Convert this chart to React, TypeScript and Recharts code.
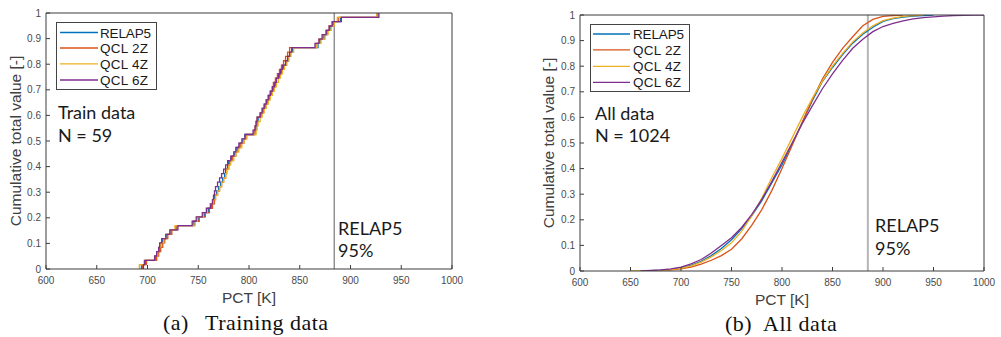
import React from "react";
import { LineChart, Line, XAxis, YAxis, ReferenceLine, Legend } from "recharts";

const seriesNames = ["RELAP5", "QCL 2Z", "QCL 4Z", "QCL 6Z"];
const seriesColors = ["#0072BD", "#D95319", "#EDB120", "#7E2F8E"];
const pctTicks = [600, 650, 700, 750, 800, 850, 900, 950, 1000];
const cumTicks = [0, 0.1, 0.2, 0.3, 0.4, 0.5, 0.6, 0.7, 0.8, 0.9, 1];

// (a) training data: sorted PCT samples, N = 59
const trainRelap5 = [
  694, 698, 708, 710, 712, 713, 715, 719, 723, 728, 746, 750, 756, 760, 763, 765, 766, 768, 770, 772,
  774, 776, 777, 779, 780, 783, 786, 788, 791, 794, 796, 806, 807, 808, 809, 812, 814, 816, 818, 820,
  822, 824, 826, 827, 830, 832, 834, 837, 839, 841, 843, 868, 870, 874, 877, 880, 883, 890, 927,
];
const trainQcl2z = [
  695, 699, 709, 711, 713, 715, 717, 720, 724, 729, 745, 751, 757, 761, 764, 766, 767, 769, 771, 773,
  775, 777, 778, 780, 781, 784, 787, 789, 792, 795, 797, 805, 806, 807, 808, 811, 813, 815, 817, 819,
  821, 823, 824, 826, 828, 830, 832, 834, 836, 838, 840, 866, 869, 873, 876, 879, 882, 888, 926,
];
const trainQcl4z = [
  692, 697, 707, 710, 711, 713, 716, 718, 722, 727, 747, 749, 755, 759, 762, 765, 767, 769, 771, 773,
  775, 777, 778, 780, 782, 785, 787, 790, 793, 795, 798, 807, 808, 809, 811, 813, 815, 817, 819, 821,
  823, 825, 827, 829, 831, 833, 835, 837, 839, 841, 844, 867, 871, 875, 878, 881, 884, 887, 926,
];
const trainQcl6z = [
  696, 697, 707, 709, 711, 712, 714, 718, 722, 730, 744, 748, 754, 758, 762, 764, 765, 766, 767, 769,
  771, 773, 775, 777, 779, 782, 785, 787, 790, 793, 796, 804, 806, 807, 808, 811, 813, 815, 817, 819,
  821, 823, 825, 827, 829, 831, 833, 836, 838, 840, 842, 865, 869, 872, 876, 879, 882, 891, 928,
];

// (b) all data: cumulative value read on a PCT grid, N = 1024
const allPctGrid = [
  650, 660, 670, 680, 690, 700, 710, 720, 730, 740, 750, 760, 770, 780, 790, 800, 810, 820,
  830, 840, 850, 860, 870, 880, 890, 900, 910, 920, 930, 940, 950, 960, 970, 980, 990, 1000,
];
const allRelap5 = [
  null, 0, 0.001, 0.003, 0.006, 0.012, 0.022, 0.038, 0.06, 0.088, 0.122, 0.165, 0.215, 0.275, 0.345, 0.415, 0.495, 0.58,
  0.665, 0.74, 0.795, 0.845, 0.89, 0.925, 0.952, 0.975, 0.986, 0.992, 0.996, 0.998, 1, null, null, null, null, null,
];
const allQcl2z = [
  null, 0, 0.001, 0.002, 0.004, 0.008, 0.015, 0.027, 0.042, 0.06, 0.085, 0.125, 0.178, 0.24, 0.315, 0.4, 0.49, 0.58,
  0.67, 0.75, 0.815, 0.87, 0.915, 0.958, 0.983, 0.995, 0.998, 1, null, null, null, null, null, null, null, null,
];
const allQcl4z = [
  0, 0, 0.001, 0.002, 0.005, 0.01, 0.02, 0.035, 0.055, 0.08, 0.11, 0.155, 0.215, 0.285, 0.365, 0.44, 0.52, 0.6,
  0.675, 0.742, 0.8, 0.85, 0.895, 0.93, 0.958, 0.978, 0.988, 0.995, 0.998, 1, null, null, null, null, null, null,
];
const allQcl6z = [
  null, 0, 0.002, 0.004, 0.008, 0.015, 0.028, 0.045, 0.07, 0.1, 0.13, 0.17, 0.22, 0.28, 0.35, 0.425, 0.5, 0.575,
  0.645, 0.712, 0.77, 0.823, 0.87, 0.905, 0.935, 0.955, 0.967, 0.977, 0.985, 0.99, 0.993, 0.996, 0.998, 0.999, 1, 1,
];

const relap95Train = 884;
const relap95All = 885;

const axisColor = "#3c3c3c";
const tickText = "#4a4a4a";
const sans = "Liberation Sans, Arial, sans-serif";
const calibriLike = "Lato, Open Sans, sans-serif";

// widths of the legend labels as drawn in the reference
const legendTextWidths = [51, 48, 48, 48];

function ecdf(samples: number[]) {
  const n = samples.length;
  return [{ pct: samples[0], cum: 0 }, ...samples.map((v, i) => ({ pct: v, cum: (i + 1) / n }))];
}

function gridRows(values: (number | null)[]) {
  return allPctGrid
    .map((p, i) => ({ pct: p, cum: values[i] }))
    .filter((d) => d.cum !== null);
}

const trainSeries = [trainRelap5, trainQcl2z, trainQcl4z, trainQcl6z].map(ecdf);
const allSeries = [allRelap5, allQcl2z, allQcl4z, allQcl6z].map(gridRows);

const fmtCum = (v: number) => String(Math.round(v * 10) / 10);

const BottomTick = (props: any) => {
  const { x, y, payload } = props;
  return (
    <g>
      <line x1={x} y1={y} x2={x} y2={y - 4} stroke={axisColor} />
      <text x={x} y={y + 14.5} textAnchor="middle" fontSize={10} fill={tickText} fontFamily={sans}>
        {payload.value}
      </text>
    </g>
  );
};
const LeftTick = (props: any) => {
  const { x, y, payload } = props;
  return (
    <g>
      <line x1={x} y1={y} x2={x + 4} y2={y} stroke={axisColor} />
      <text x={x - 5} y={y + 3.5} textAnchor="end" fontSize={10} fill={tickText} fontFamily={sans}>
        {fmtCum(payload.value)}
      </text>
    </g>
  );
};
const TopTick = (props: any) => {
  const { x, y } = props;
  return <line x1={x} y1={y} x2={x} y2={y + 4} stroke={axisColor} />;
};
const RightTick = (props: any) => {
  const { x, y } = props;
  return <line x1={x} y1={y} x2={x - 4} y2={y} stroke={axisColor} />;
};

function LegendBox({ w, h, rows, lineX, textX }: { w: number; h: number; rows: number[]; lineX: number[]; textX: number }) {
  return (
    <svg width={w} height={h} style={{ display: "block" }}>
      <rect x={0.5} y={0.5} width={w - 1} height={h - 1} fill="#fff" stroke="#444" />
      {seriesNames.map((name, i) => (
        <g key={name}>
          <line x1={lineX[0]} x2={lineX[1]} y1={rows[i]} y2={rows[i]} stroke={seriesColors[i]} strokeWidth={1.3} />
          <text
            x={textX}
            y={rows[i] + 5}
            fontSize={13.5}
            fontFamily={sans}
            fill="#1a1a1a"
            textLength={legendTextWidths[i]}
            lengthAdjust="spacing"
          >
            {name}
          </text>
        </g>
      ))}
    </svg>
  );
}

interface PanelProps {
  left: number;
  width: number;
  plotTop: number;
  plotBottom: number;
  plotW: number;
  series: { pct: number; cum: number | null }[][];
  step: boolean;
  refX: number;
  refColor: string;
  refWidth: number;
  legendPos: { left: number; top: number; w: number; h: number; rows: number[]; lineX: number[]; textX: number };
}

function Panel(p: PanelProps) {
  const H = 337;
  const margin = {
    top: p.plotTop - 1,
    left: 10,
    right: p.width - 46 - p.plotW - 1,
    bottom: H - p.plotBottom - 20,
  };
  return (
    <div style={{ position: "absolute", left: p.left, top: 0 }}>
      <LineChart width={p.width} height={H} margin={margin}>
        <XAxis
          xAxisId="b"
          dataKey="pct"
          type="number"
          domain={[600, 1000]}
          ticks={pctTicks}
          allowDataOverflow
          height={20}
          tickSize={0}
          tickMargin={0}
          tickLine={false}
          tick={BottomTick}
          axisLine={{ stroke: axisColor }}
          interval={0}
        />
        <XAxis
          xAxisId="t"
          orientation="top"
          type="number"
          domain={[600, 1000]}
          ticks={pctTicks}
          height={1}
          tickSize={0}
          tickMargin={0}
          tickLine={false}
          tick={TopTick}
          axisLine={{ stroke: axisColor }}
          interval={0}
        />
        <YAxis
          yAxisId="l"
          type="number"
          domain={[0, 1]}
          ticks={cumTicks}
          allowDataOverflow
          width={36}
          tickSize={0}
          tickMargin={0}
          tickLine={false}
          tick={LeftTick}
          axisLine={{ stroke: axisColor }}
          interval={0}
        />
        <YAxis
          yAxisId="r"
          orientation="right"
          type="number"
          domain={[0, 1]}
          ticks={cumTicks}
          width={1}
          tickSize={0}
          tickMargin={0}
          tickLine={false}
          tick={RightTick}
          axisLine={{ stroke: axisColor }}
          interval={0}
        />
        <ReferenceLine xAxisId="b" yAxisId="l" x={p.refX} stroke={p.refColor} strokeWidth={p.refWidth} />
        {p.series.map((rows, i) => (
          <Line
            key={seriesNames[i]}
            xAxisId="b"
            yAxisId="l"
            name={seriesNames[i]}
            data={rows}
            dataKey="cum"
            type={p.step ? "stepAfter" : "linear"}
            stroke={seriesColors[i]}
            strokeWidth={1.3}
            dot={false}
            activeDot={false}
            isAnimationActive={false}
          />
        ))}
        <Legend
          layout="horizontal"
          align="center"
          verticalAlign="middle"
          wrapperStyle={{ left: p.legendPos.left, top: p.legendPos.top, width: p.legendPos.w }}
          content={() => (
            <LegendBox
              w={p.legendPos.w}
              h={p.legendPos.h}
              rows={p.legendPos.rows}
              lineX={p.legendPos.lineX}
              textX={p.legendPos.textX}
            />
          )}
        />
      </LineChart>
    </div>
  );
}

export default function App() {
  const label = { fontFamily: sans, fontSize: 15.5, fill: "#404040" };
  const note = { fontFamily: calibriLike, fontSize: 18, fill: "#1a1a1a" };
  const cap = { fontFamily: "Liberation Serif, Times New Roman, serif", fontSize: 22, fill: "#111", letterSpacing: 0.5 };
  return (
    <div style={{ position: "absolute", left: 0, top: 0, width: 1001, height: 337, background: "#fff", overflow: "hidden" }}>
      <Panel
        left={0}
        width={470}
        plotTop={13}
        plotBottom={269}
        plotW={406}
        series={trainSeries}
        step
        refX={relap95Train}
        refColor="#8c8c8c"
        refWidth={1.4}
        legendPos={{ left: 56, top: 22, w: 101, h: 68, rows: [10.5, 26, 41.8, 58], lineX: [4, 42], textX: 44 }}
      />
      <Panel
        left={534}
        width={467}
        plotTop={15}
        plotBottom={271}
        plotW={404}
        series={allSeries}
        step={false}
        refX={relap95All}
        refColor="#b5b5b5"
        refWidth={2}
        legendPos={{ left: 56, top: 24, w: 100, h: 68, rows: [10, 25.8, 42.3, 58.3], lineX: [3, 40], textX: 43 }}
      />
      <svg width={1001} height={337} style={{ position: "absolute", left: 0, top: 0, pointerEvents: "none" }}>
        <text x={20.5} y={141} textAnchor="middle" transform="rotate(-90 20.5 141)" {...label}>
          Cumulative total value [-]
        </text>
        <text x={249} y={303} textAnchor="middle" {...label}>
          PCT [K]
        </text>
        <text x={58} y={119} {...note}>Train data</text>
        <text x={58} y={142} {...note}>N = 59</text>
        <text x={338} y={235} {...note}>RELAP5</text>
        <text x={338} y={257} {...note}>95%</text>
        <text x={163} y={330} {...cap}>(a)</text>
        <text x={205} y={330} {...cap}>Training data</text>

        <text x={554} y={143} textAnchor="middle" transform="rotate(-90 554 143)" {...label}>
          Cumulative total value [-]
        </text>
        <text x={782} y={305} textAnchor="middle" {...label}>
          PCT [K]
        </text>
        <text x={595} y={120} {...note}>All data</text>
        <text x={595} y={142} {...note}>N = 1024</text>
        <text x={875} y={232} {...note}>RELAP5</text>
        <text x={875} y={255} {...note}>95%</text>
        <text x={725} y={331} {...cap}>(b)</text>
        <text x={763} y={331} {...cap}>All data</text>
      </svg>
    </div>
  );
}
